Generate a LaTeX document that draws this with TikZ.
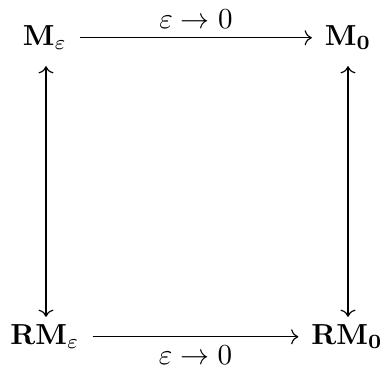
\documentclass[tikz,border=0pt]{standalone}
\usepackage{amsmath}
\usetikzlibrary{arrows.meta}
\begin{document}
\begin{tikzpicture}[x=0.345pt,y=-0.345pt,
  obj/.style={anchor=base,inner xsep=4.3pt,inner ysep=3.6pt},
  arr/.style={draw,line width=0.4pt,-{To}},
  darr/.style={draw,line width=0.4pt,{To}-{To}},
  lbl/.style={inner sep=3pt,font=\normalsize}]
\useasboundingbox (0,0) rectangle (382,376);
\node[obj] (ML) at (45,45) {$\mathbf{M}_\varepsilon$};
\node[obj] (MR) at (348,45) {$\mathbf{M_0}$};
\node[obj] (RL) at (45,344) {$\mathbf{RM}_\varepsilon$};
\node[obj] (RR) at (347,344) {$\mathbf{RM_0}$};
\path[arr] ([yshift=2.5pt]ML.base east) -- node[lbl,above] (t1) {$\varepsilon\to0$} ([yshift=2.5pt]MR.base west);
\path[arr] ([yshift=2.5pt]RL.base east) -- node[lbl,below] (t2) {$\varepsilon\to0$} ([yshift=2.5pt]RR.base west);
\path[darr] ([yshift=-2pt]ML.south -| 46,0) -- ([yshift=-1.3pt]RL.north -| 46,0);
\path[darr] ([yshift=-2pt]MR.south -| 348,0) -- ([yshift=-1.3pt]RR.north -| 348,0);
\end{tikzpicture}
\end{document}
